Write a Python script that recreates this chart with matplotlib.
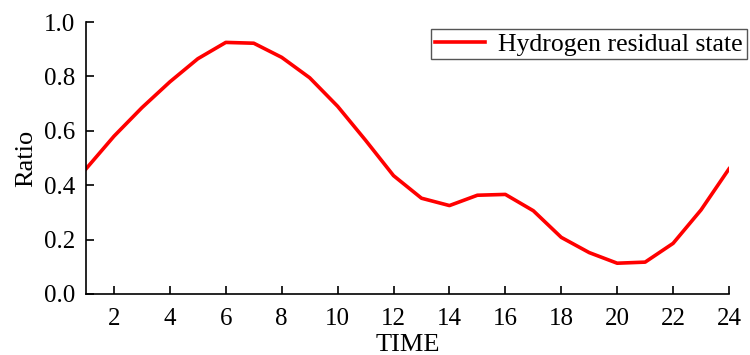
"""Hydrogen residual state ratio over time."""

import matplotlib
matplotlib.use("Agg")
import matplotlib.pyplot as plt

# Data
time = list(range(1, 25))
ratio = [0.46, 0.58, 0.685, 0.78, 0.865, 0.925, 0.922, 0.87, 0.795, 0.69,
         0.565, 0.435, 0.352, 0.325, 0.363, 0.366, 0.306, 0.208, 0.152,
         0.113, 0.117, 0.186, 0.309, 0.46]
x_ticks = list(range(2, 25, 2))
y_ticks = [0.0, 0.2, 0.4, 0.6, 0.8, 1.0]

plt.rcParams["font.family"] = ["Liberation Serif", "DejaVu Serif"]

fig = plt.figure(figsize=(7.5, 3.55), dpi=100)
ax = fig.add_axes([0.1147, 0.172, 0.8573, 0.766])

ax.plot(time, ratio, color="#ff0000", linewidth=2.6, label="Hydrogen residual state")

ax.set_xlim(1, 24)
ax.set_ylim(0, 1.0)
ax.set_xticks(x_ticks)
ax.set_yticks(y_ticks)
ax.set_yticklabels([f"{v:.1f}" for v in y_ticks])

for side in ("top", "right"):
    ax.spines[side].set_visible(False)
for side in ("left", "bottom"):
    ax.spines[side].set_linewidth(1.2)

ax.tick_params(direction="in", length=6, width=1.2, labelsize=18)
ax.tick_params(axis="x", pad=10)
ax.tick_params(axis="y", pad=8)
ax.set_xlabel("TIME", fontsize=19, labelpad=3)
ax.set_ylabel("Ratio", fontsize=19, labelpad=5)

ax.legend(
    loc="upper right",
    bbox_to_anchor=(746.7 / 750, 1 - 28.7 / 355),
    bbox_transform=fig.transFigure,
    borderaxespad=0,
    fancybox=False,
    edgecolor="#555555",
    framealpha=1,
    fontsize=18.5,
    borderpad=0.15,
    handlelength=1.95,
    handletextpad=0.5,
)

fig.savefig("out.png", dpi=100)
